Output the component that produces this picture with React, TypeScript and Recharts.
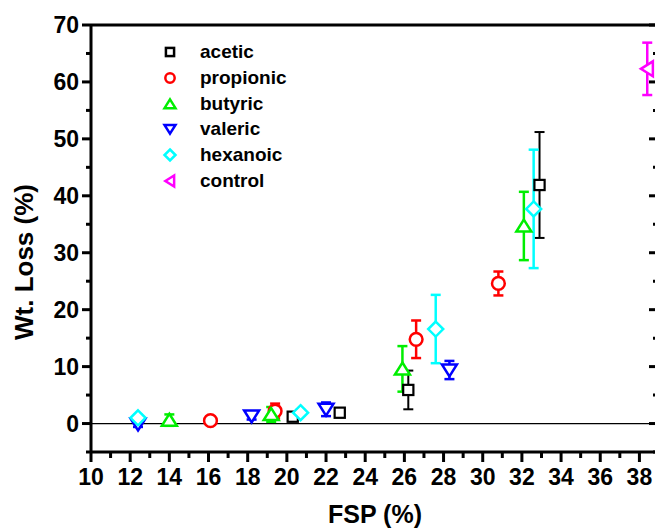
import React from "react";
import { ScatterChart, Scatter, XAxis, YAxis, ErrorBar, ReferenceLine, Legend } from "recharts";

const FONT = '"Liberation Sans", Arial, Helvetica, sans-serif';

// FSP (%), Wt. Loss (%) and error per acid
const aceticFsp = [20.3, 22.7, 26.2, 32.9];
const aceticLoss = [1.2, 1.9, 5.9, 41.9];
const aceticErr = [0.5, 0.2, 3.4, 9.3];

const propionicFsp = [16.1, 19.4, 26.6, 30.8];
const propionicLoss = [0.5, 2.2, 14.8, 24.6];
const propionicErr = [0.2, 1.3, 3.3, 2.1];

const butyricFsp = [14.0, 19.2, 25.9, 32.1];
const butyricLoss = [0.6, 1.6, 9.6, 34.7];
const butyricErr = [1.0, 1.3, 4.0, 6.0];

const valericFsp = [12.4, 18.2, 22.0, 28.3];
const valericLoss = [-0.1, 1.3, 2.5, 9.4];
const valericErr = [0.5, 0.6, 1.2, 1.6];

const hexanoicFsp = [12.4, 20.7, 27.6, 32.6];
const hexanoicLoss = [1.0, 1.9, 16.6, 37.7];
const hexanoicErr = [0.5, 0.5, 6.0, 10.4];

const controlFsp = [38.4];
const controlLoss = [62.3];
const controlErr = [4.6];

const xTicks = [10, 11, 12, 13, 14, 15, 16, 17, 18, 19, 20, 21, 22, 23, 24, 25, 26, 27, 28, 29, 30, 31, 32, 33, 34, 35, 36, 37, 38, 39];
const yTicks = [-5, 0, 5, 10, 15, 20, 25, 30, 35, 40, 45, 50, 55, 60, 65, 70];

type Kind = "square" | "circle" | "up" | "down" | "diamond" | "left";

const rows = (fsp: number[], loss: number[], err: number[]) =>
  fsp.map((x, i) => ({ x, y: loss[i], err: err[i] }));

const series: { name: string; kind: Kind; color: string; data: { x: number; y: number; err: number }[] }[] = [
  { name: "acetic", kind: "square", color: "#000000", data: rows(aceticFsp, aceticLoss, aceticErr) },
  { name: "propionic", kind: "circle", color: "#ff0000", data: rows(propionicFsp, propionicLoss, propionicErr) },
  { name: "butyric", kind: "up", color: "#00ee00", data: rows(butyricFsp, butyricLoss, butyricErr) },
  { name: "valeric", kind: "down", color: "#0000ff", data: rows(valericFsp, valericLoss, valericErr) },
  { name: "hexanoic", kind: "diamond", color: "#00ffff", data: rows(hexanoicFsp, hexanoicLoss, hexanoicErr) },
  { name: "control", kind: "left", color: "#ff00ff", data: rows(controlFsp, controlLoss, controlErr) },
];

function Marker({ cx, cy, kind, color, s, sw }: { cx: number; cy: number; kind: Kind; color: string; s: number; sw: number }) {
  const p = { fill: "#fff", stroke: color, strokeWidth: sw };
  const h = s / 2;
  switch (kind) {
    case "square":
      return <rect x={cx - h * 0.68} y={cy - h * 0.68} width={s * 0.68} height={s * 0.68} {...p} />;
    case "circle":
      return <circle cx={cx} cy={cy} r={h * 0.85} {...p} />;
    case "up":
      return <polygon points={`${cx},${cy - h * 0.85} ${cx + h},${cy + h * 0.75} ${cx - h},${cy + h * 0.75}`} {...p} />;
    case "down":
      return <polygon points={`${cx},${cy + h * 0.85} ${cx + h},${cy - h * 0.75} ${cx - h},${cy - h * 0.75}`} {...p} />;
    case "diamond":
      return <polygon points={`${cx},${cy - h} ${cx + h},${cy} ${cx},${cy + h} ${cx - h},${cy}`} {...p} />;
    default:
      return <polygon points={`${cx - h * 0.85},${cy} ${cx + h * 0.75},${cy - h} ${cx + h * 0.75},${cy + h}`} {...p} />;
  }
}

// bottom x ticks: long on even values, short on odd
function XTick({ x, y, payload }: any) {
  const v = payload.value;
  const major = v % 2 === 0;
  const len = major ? 10 : 6;
  return (
    <g>
      <line x1={x} x2={x} y1={y} y2={y + len} stroke="#000" strokeWidth={3} />
      {major && v <= 38 && (
        <text x={x} y={y + 33} textAnchor="middle" fontFamily={FONT} fontWeight={700} fontSize={23} fill="#000">
          {v}
        </text>
      )}
    </g>
  );
}

function XTickTop(props: any) {
  const v = props.payload.value;
  const len = v % 2 === 0 ? 10 : 6;
  return <line x1={props.x} x2={props.x} y1={props.y} y2={props.y + len} stroke="#000" strokeWidth={3} />;
}

function YTick({ x, y, payload }: any) {
  const v = payload.value;
  const major = v % 10 === 0;
  const len = major ? 9 : 5;
  return (
    <g>
      <line x1={x} x2={x - len} y1={y} y2={y} stroke="#000" strokeWidth={3} />
      {major && (
        <text x={x - 12} y={y} dy="0.36em" textAnchor="end" fontFamily={FONT} fontWeight={700} fontSize={23} fill="#000">
          {v}
        </text>
      )}
    </g>
  );
}

function YTickRight({ x, y, payload }: any) {
  const len = payload.value % 10 === 0 ? 10 : 6;
  return <line x1={x} x2={x - len} y1={y} y2={y} stroke="#000" strokeWidth={3} />;
}

const renderLegend = () => (
  <div style={{ fontFamily: FONT, fontWeight: 700, fontSize: 19, color: "#000" }}>
    {series.map((s) => (
      <div key={s.name} style={{ display: "flex", alignItems: "center", height: 25.7 }}>
        <svg width={20} height={20} style={{ display: "block" }}>
          <Marker cx={10} cy={10} kind={s.kind} color={s.color} s={s.kind === "square" ? 12 : 11} sw={2.5} />
        </svg>
        <span style={{ marginLeft: 20, lineHeight: "20px" }}>{s.name}</span>
      </div>
    ))}
  </div>
);

export default function App() {
  return (
    <div style={{ position: "absolute", left: 0, top: 0, width: 655, height: 529, overflow: "hidden", background: "#fff" }}>
      <ScatterChart width={660} height={529} margin={{ top: 24, right: 0, bottom: 0, left: 0 }}>
        <XAxis
          type="number"
          dataKey="x"
          domain={[10, 39]}
          ticks={xTicks}
          interval={0}
          allowDataOverflow
          height={77}
          tickSize={0}
          tickMargin={0}
          tickLine={false}
          axisLine={{ stroke: "#000", strokeWidth: 3 }}
          tick={<XTick />}
          label={() => (
            <text x={375} y={523} textAnchor="middle" fontFamily={FONT} fontWeight={700} fontSize={25} fill="#000">
              FSP (%)
            </text>
          )}
        />
        <XAxis
          xAxisId="top"
          orientation="top"
          type="number"
          domain={[10, 39]}
          ticks={xTicks}
          interval={0}
          allowDataOverflow
          height={1}
          tickSize={0}
          tickMargin={0}
          tickLine={false}
          axisLine={{ stroke: "#000", strokeWidth: 3 }}
          tick={<XTickTop />}
        />
        <YAxis
          type="number"
          dataKey="y"
          domain={[-5, 70]}
          ticks={yTicks}
          interval={0}
          allowDataOverflow
          width={91}
          tickSize={0}
          tickMargin={0}
          tickLine={false}
          axisLine={{ stroke: "#000", strokeWidth: 3 }}
          tick={<YTick />}
          label={() => (
            <text x={33} y={262} transform="rotate(-90 33 262)" textAnchor="middle" fontFamily={FONT} fontWeight={700} fontSize={26} fill="#000">
              Wt. Loss (%)
            </text>
          )}
        />
        <YAxis
          yAxisId="right"
          orientation="right"
          type="number"
          domain={[-5, 70]}
          ticks={yTicks}
          interval={0}
          allowDataOverflow
          width={1}
          tickSize={0}
          tickMargin={0}
          tickLine={false}
          axisLine={{ stroke: "#000", strokeWidth: 3 }}
          tick={<YTickRight />}
        />
        <ReferenceLine y={0} stroke="#000" strokeWidth={1.2} />
        <Legend
          layout="vertical"
          align="center"
          verticalAlign="middle"
          content={renderLegend}
          wrapperStyle={{ left: 160, top: 39.5, width: 200, height: 160 }}
        />
        {series.map((s) => (
          <Scatter
            key={s.name}
            name={s.name}
            data={s.data}
            isAnimationActive={false}
            shape={(p: any) => (
              <Marker cx={p.cx} cy={p.cy} kind={s.kind} color={s.color} s={15} sw={s.kind === "square" ? 2.2 : 2.5} />
            )}
          >
            <ErrorBar dataKey="err" direction="y" width={5} stroke={s.color} strokeWidth={s.kind === "square" ? 2 : 2.5} />
          </Scatter>
        ))}
      </ScatterChart>
    </div>
  );
}
